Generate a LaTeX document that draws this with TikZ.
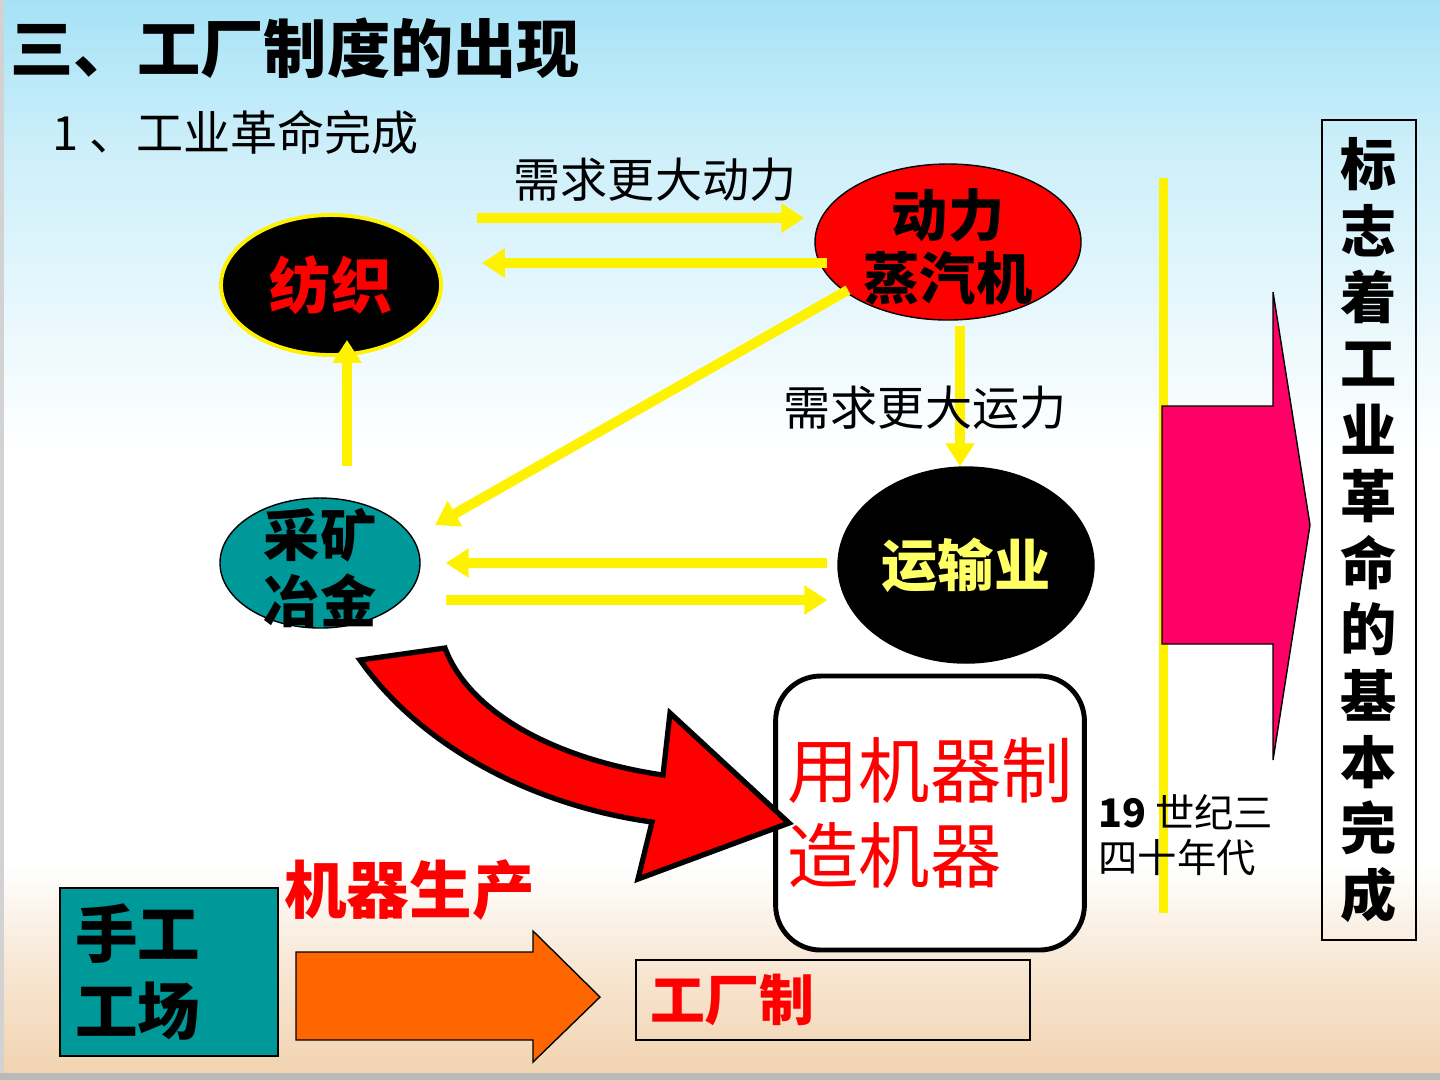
\documentclass[tikz,border=0pt]{standalone}
\usepackage{fontspec}
\setmainfont{Noto Sans CJK SC}
\usepackage{xcolor}
\usetikzlibrary{arrows.meta,positioning,calc,shapes.geometric}

\definecolor{skytop}{HTML}{A6E2F6}
\definecolor{skymid}{HTML}{CDEFFA}
\definecolor{sandA}{HTML}{F7E6D2}
\definecolor{sandB}{HTML}{F1D2AE}
\definecolor{tealbox}{HTML}{009999}
\definecolor{pinkarr}{HTML}{FF0066}
\definecolor{orangearr}{HTML}{FF6600}
\definecolor{paleyellow}{HTML}{FFFF66}

\pgfdeclareverticalshading{slidebg}{100bp}{color(0bp)=(sandB); color(25bp)=(sandB);
  color(30bp)=(sandA); color(35bp)=(white); color(54bp)=(white);
  color(68bp)=(skymid); color(75bp)=(skytop); color(100bp)=(skytop)}

\newcommand{\fsz}[2]{\fontsize{#1}{#2}\selectfont}

\begin{document}
\begin{tikzpicture}[
  x=0.1mm, y=-0.1mm,
  >={Triangle[length=2.3mm,width=2.8mm]},
  yarr/.style={->, draw=yellow, fill=yellow, line width=1mm},
  blob/.style={ellipse, inner sep=0pt, draw=black, line width=0.4pt},
  box/.style={draw=black, inner sep=0pt},
  bigred/.style={font=\fsz{17.8}{21}\bfseries, text=red},
  lbl/.style={font=\fsz{13.4}{15}}
]

%--------------------------------------------------
% slide background
%--------------------------------------------------
\useasboundingbox (0,0) rectangle (1440,1080);
\shade[shading=slidebg] (0,0) rectangle (1440,1080);
\fill[gray!55] (0,1073) rectangle (1440,1080);
\fill[gray!35] (0,0) rectangle (4,1073);

%--------------------------------------------------
% headings
%--------------------------------------------------
\node[anchor=west, inner sep=0pt, font=\fsz{18}{20}\bfseries] (title) at (10,48) {三、工厂制度的出现};
\node[anchor=west, inner sep=0pt, font=\fsz{13.4}{15}] (subtitle) at (52,132) {1 、工业革命完成};

%--------------------------------------------------
% four industries
%--------------------------------------------------
\node[blob, fill=black, draw=yellow, line width=1.1pt, minimum width=22mm, minimum height=14mm,
      font=\fsz{17.4}{19}\bfseries, text=red] (textile) at (331,285) {纺织};

\node[blob, fill=red, minimum width=26.6mm, minimum height=15.6mm] (steam) at (948,242) {};
\node[align=center, font=\fsz{16}{18}\bfseries] (steamtxt) at (948,247) {动力\\蒸汽机};

\node[blob, fill=tealbox, minimum width=20mm, minimum height=13mm] (mining) at (320,563) {};
\node[align=left, font=\fsz{16}{18.5}\bfseries] (miningtxt) at (320,568) {采矿\\冶金};

\node[blob, fill=black, minimum width=25.6mm, minimum height=19.6mm,
      font=\fsz{16}{18}\bfseries, text=paleyellow] (transport) at (966,565) {运输业};

%--------------------------------------------------
% yellow connectors
%--------------------------------------------------
\draw[yarr] ($(textile.east)+(34,-67)$) -- ($(steam.west)+(-10,-24)$);
\draw[yarr] ($(steam.west)+(13,21)$) -- ($(textile.east)+(39,-22)$);
\draw[yarr] ($(steam)+(-100,48)$) -- ($(mining)+(115,-38)$);
\draw[yarr] ($(mining.north)+(27,-31)$) -- ($(textile.south)+(16,-17)$);
\draw[yarr] ($(steam.south)+(12,5)$) -- ($(transport.north)+(-6,0)$);
\draw[yarr] ($(transport.west)+(-10,-2)$) -- ($(mining.east)+(25,0)$);
\draw[yarr] ($(mining.east)+(25,37)$) -- ($(transport.west)+(-10,35)$);

\node[lbl] (needpower) at (655,180) {需求更大动力};
\node[lbl] (needtrans) at (925,408) {需求更大运力};

%--------------------------------------------------
% machines making machines
%--------------------------------------------------
\node[draw=black, line width=1.4pt, rounded corners=4.5mm, fill=white,
      minimum width=30.8mm, minimum height=27.4mm, align=left,
      font=\fsz{20.3}{24}, text=red] (machines) at (930,813) {用机器制\\造机器};

\draw[fill=red, draw=black, line width=1.5pt, line join=miter]
  (360,660) -- (445,648)
  .. controls (470,715) and (560,760) .. (663,775)
  -- (670,713) -- (789,823) -- (638,879) -- (652,822)
  .. controls (530,805) and (420,745) .. cycle;

%--------------------------------------------------
% workshop to factory
%--------------------------------------------------
\node[box, fill=tealbox, minimum height=16.8mm, text width=18.8mm, inner xsep=1.5mm,
      align=left, font=\fsz{17.8}{22}\bfseries] (workshop) at (169,972) {手工\\工场};

\node[bigred, anchor=west] (machprod) at (272,890) {机器生产};

\draw[fill=orangearr, draw=black, line width=0.4pt]
  (296,952) -- (533,952) -- (533,931) -- (600,997) -- (533,1062) -- (533,1040) -- (296,1040) -- cycle;

\node[box, minimum height=8mm, text width=36.6mm, inner xsep=1.4mm, align=left,
      font=\fsz{15.6}{18}\bfseries, text=red] (factory) at (833,1000) {工厂制};

%--------------------------------------------------
% right: time line and conclusion
%--------------------------------------------------
\draw[yellow, line width=0.9mm] (1163,178) -- (1163,913);

\draw[fill=pinkarr, draw=black, line width=0.4pt]
  (1162,406) -- (1273,406) -- (1273,292) -- (1310,525) -- (1273,760) -- (1273,644) -- (1162,644) -- cycle;

\node[anchor=west, align=left, font=\fsz{11.2}{13}] (era) at (1086,835) {{\bfseries 19} 世纪三\\四十年代};

\node[box, line width=0.5pt, minimum width=9.4mm, minimum height=82mm, align=center,
      font=\fsz{16}{18.9}\bfseries] (mark) at (1369,530)
  {标\\志\\着\\工\\业\\革\\命\\的\\基\\本\\完\\成};

\end{tikzpicture}
\end{document}
